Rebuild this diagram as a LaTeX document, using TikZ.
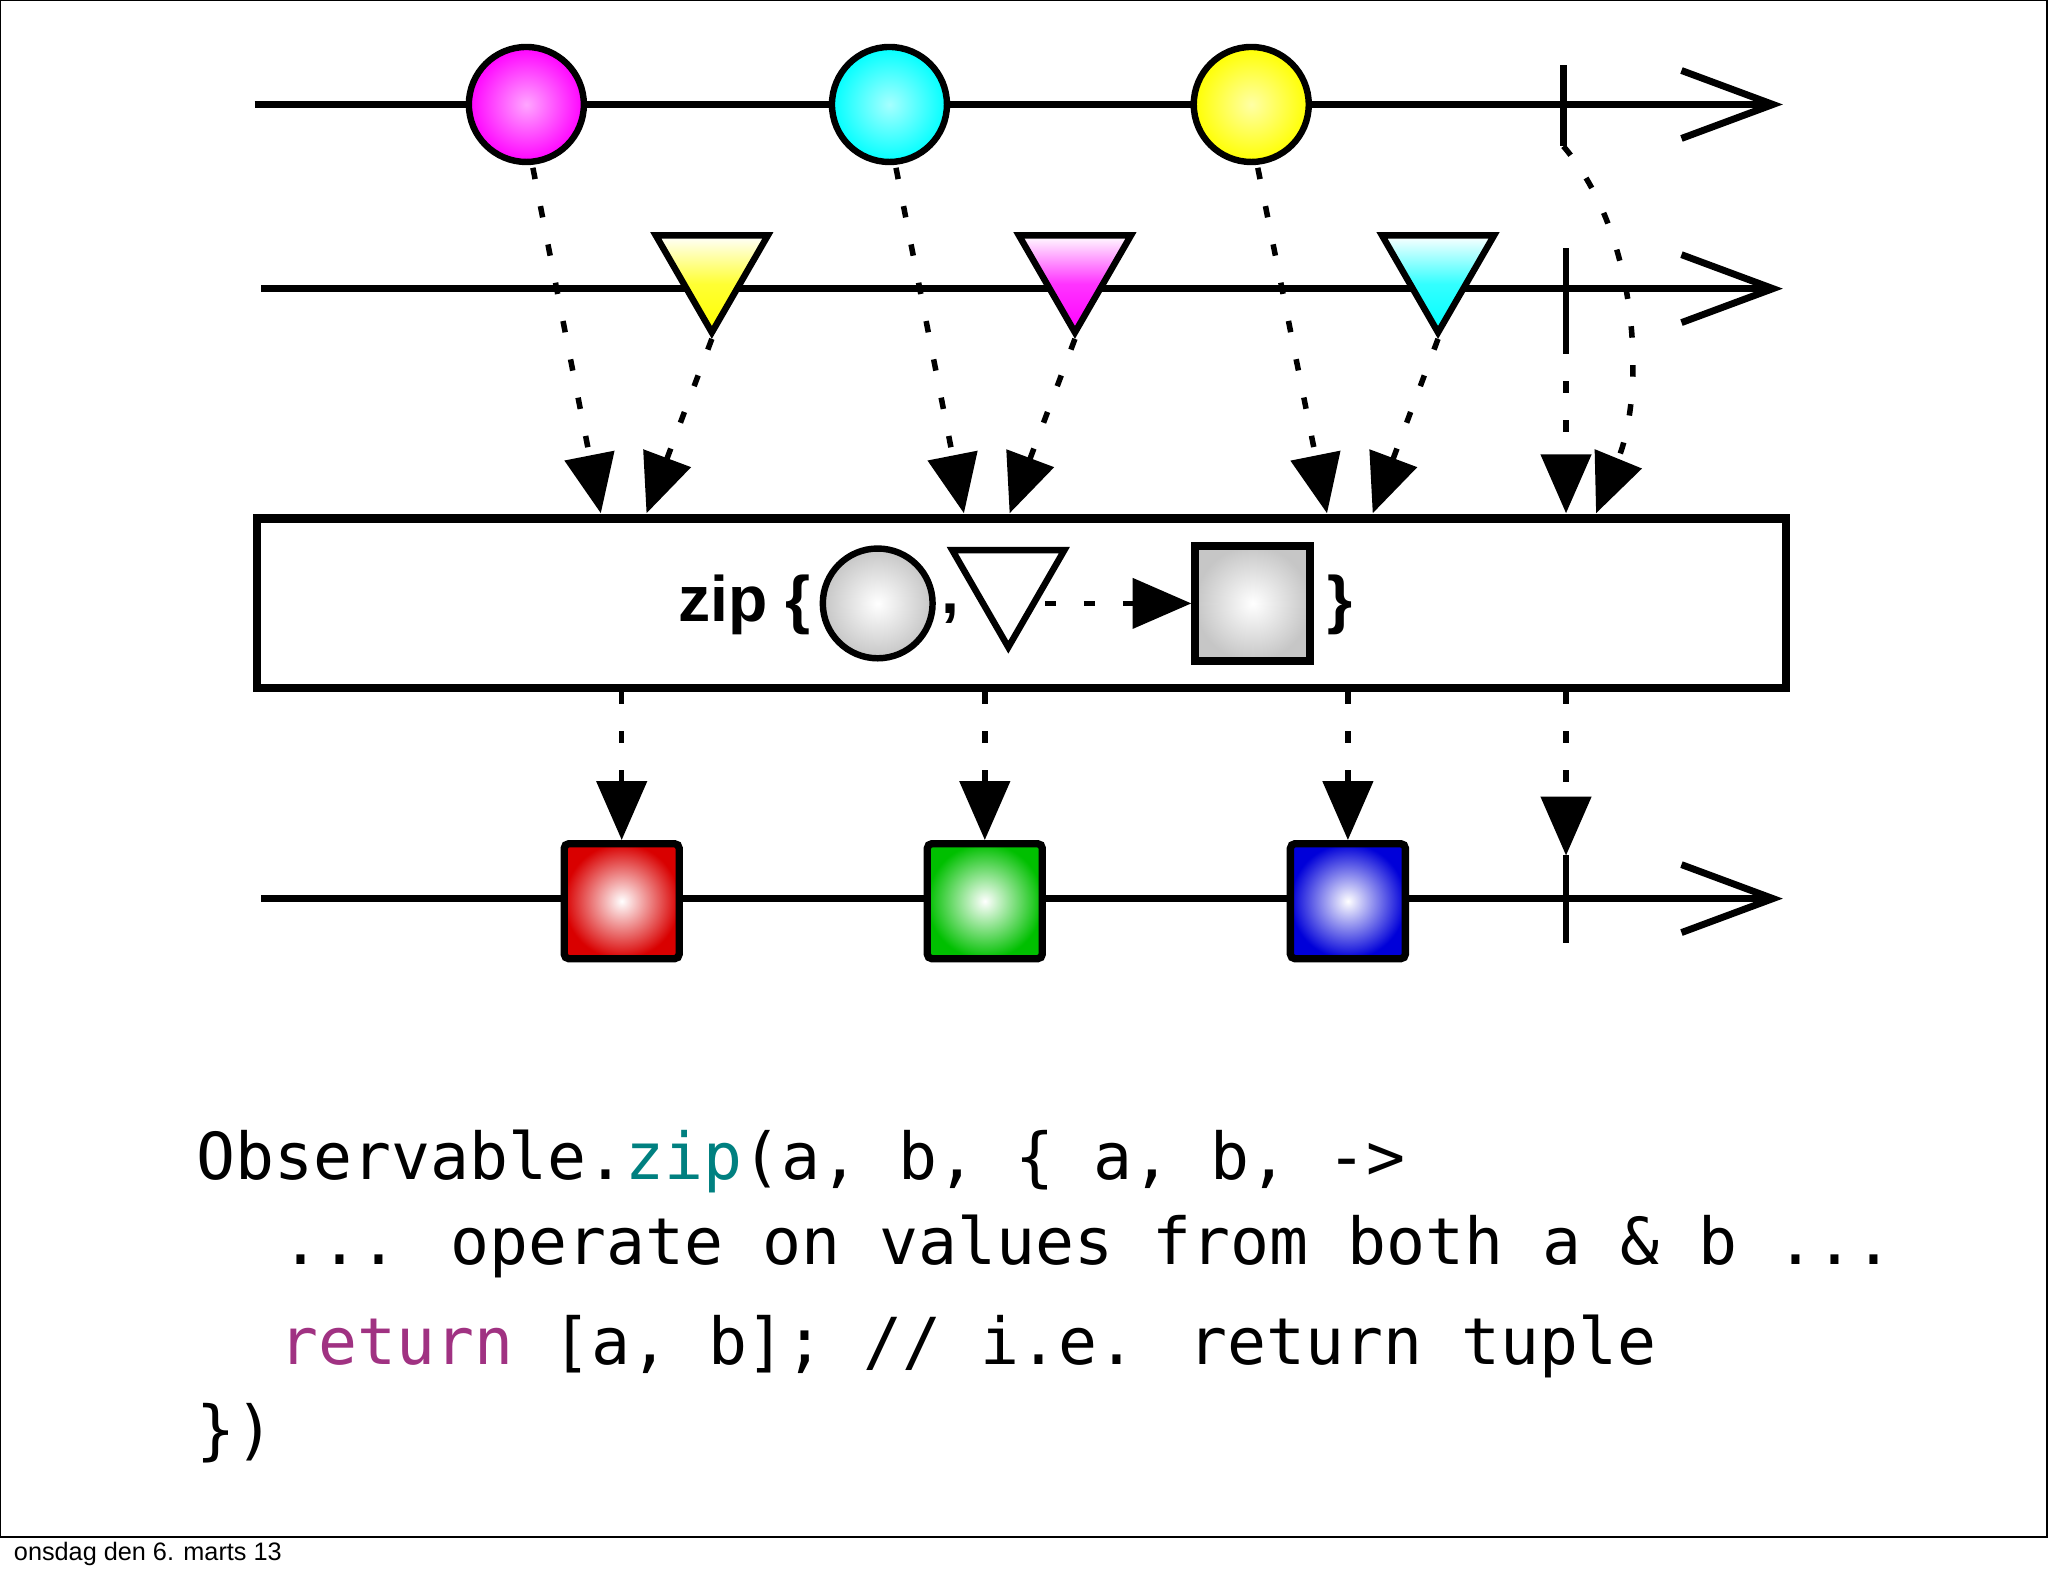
\documentclass[tikz,border=0pt]{standalone}
\usepackage{fontspec}
\newfontfamily\hv{Liberation Sans}
\newfontfamily\code{DejaVu Sans Mono}
\usetikzlibrary{arrows.meta,shapes.geometric}
\definecolor{teal2}{RGB}{0,128,128}
\definecolor{purp}{RGB}{160,50,130}
\tikzset{
 tl/.style={line width=1.5pt,-{Straight Barb[length=7mm,width=5.2mm,line width=1.5pt]}},
 tick/.style={line width=1.5pt},
 dot/.style={line width=1.2pt,dash pattern=on 2.5pt off 6pt,-{Triangle[length=4.5mm,width=3.8mm]}},
 ball/.style={circle,draw,line width=1.4pt,minimum size=0.88cm,inner sep=0,inner color=#1!35!white,outer color=#1},
 tri/.style={regular polygon,regular polygon sides=3,shape border rotate=180,draw,line width=1.4pt,minimum size=0.99cm,inner sep=0,top color=white,bottom color=#1,middle color=#1!80!white},
 sq/.style={rectangle,draw,line width=1.6pt,minimum size=0.88cm,inner sep=0,inner color=white,outer color=#1,rounded corners=1pt},
 codet/.style={anchor=base west,inner sep=0,font=\code\fontsize{14.1}{17}\selectfont}
}
\begin{document}
\begin{tikzpicture}[x=0.01cm,y=-0.01cm]
\useasboundingbox (0,0) rectangle (1568,1207);
\draw[line width=0.4pt] (0,0) rectangle (1567,1177);
\node[anchor=west,inner sep=0,font=\hv\fontsize{5.5}{7}\selectfont] (foot) at (10,1190) {onsdag den 6. marts 13};
% line 1
\coordinate (a0) at (195,80); \coordinate (a1) at (1365,80);
\draw[tl] (a0) -- (a1);
\coordinate (t1a) at (1197,50); \coordinate (t1b) at (1197,112);
\draw[tick] (t1a) -- (t1b);
\node[ball=magenta] (c1) at (403,80) {};
\node[ball=cyan] (c2) at (681,80) {};
\node[ball=yellow] (c3) at (958,80) {};
% line 2
\coordinate (b0) at (200,221); \coordinate (b1) at (1365,221);
\draw[tl] (b0) -- (b1);
\coordinate (t2a) at (1199,190); \coordinate (t2b) at (1199,262);
\draw[tick] (t2a) -- (t2b);
\node[tri=yellow] (r1) at (545,205) {};
\node[tri=magenta] (r2) at (823,205) {};
\node[tri=cyan] (r3) at (1101,205) {};
% box
\node[draw,line width=1.8pt,minimum width=11.7cm,minimum height=1.3cm,inner sep=0] (box) at (782,462) {};
\node[inner sep=0,font=\hv\bfseries\fontsize{14}{16}\selectfont] (zip) at (570,463) {zip \{};
\node[circle,draw,line width=1.4pt,minimum size=0.84cm,inner sep=0,inner color=white,outer color=gray!45] (bc) at (672,462) {};
\node[inner sep=0,font=\hv\bfseries\fontsize{14}{16}\selectfont] (comma) at (728,470) {,};
\node[regular polygon,regular polygon sides=3,shape border rotate=180,draw,line width=1.4pt,minimum size=0.99cm,inner sep=0] (bt) at (772,446) {};
\node[rectangle,draw,line width=1.6pt,minimum size=0.88cm,inner sep=0,inner color=white,outer color=gray!45] (bs) at (959,462) {};
\node[inner sep=0,font=\hv\bfseries\fontsize{14}{16}\selectfont] (cb) at (1026,463) {\}};
\coordinate (dd) at (800,462);
\draw[dot] (dd) -- (bs.west);
% arrows in
\coordinate (e1) at (460,393); \coordinate (f1) at (495,393);
\coordinate (e2) at (738,393); \coordinate (f2) at (773,393);
\coordinate (e3) at (1016,393); \coordinate (f3) at (1051,393);
\coordinate (e4) at (1199,393); \coordinate (f4) at (1222,393);
\draw[dot] (c1.south) ++(5,2) -- (e1);
\draw[dot] (c2.south) ++(5,2) -- (e2);
\draw[dot] (c3.south) ++(5,2) -- (e3);
\draw[dot] (r1.south) -- (f1);
\draw[dot] (r2.south) -- (f2);
\draw[dot] (r3.south) -- (f3);
\draw[dot] (t2b) -- (e4);
\draw[dot] (t1b) .. controls (1255,180) and (1260,300) .. (f4);
% line 3
\coordinate (g0) at (200,688); \coordinate (g1) at (1365,688);
\draw[tl] (g0) -- (g1);
\coordinate (t3a) at (1199,655); \coordinate (t3b) at (1199,722);
\draw[tick] (t3a) -- (t3b);
\node[sq=red!85!black] (s1) at (476,690) {};
\node[sq=green!75!black] (s2) at (754,690) {};
\node[sq=blue!85!black] (s3) at (1032,690) {};
\coordinate (o1) at (476,530); \coordinate (o2) at (754,530); \coordinate (o3) at (1032,530); \coordinate (o4) at (1199,530);
\draw[dot] (o1) -- (s1.north);
\draw[dot] (o2) -- (s2.north);
\draw[dot] (o3) -- (s3.north);
\draw[dot] (o4) -- (t3a);
% code
\node[codet] (l1) at (150,903) {Observable.\textcolor{teal2}{zip}(a, b, \{ a, b, ->};
\node[codet] (l2) at (215,968) {... operate on values from both a \& b ...};
\node[codet] (l3) at (213,1045) {\textcolor{purp}{return} [a, b]; // i.e. return tuple};
\node[codet] (l4) at (150,1112) {\})};
\end{tikzpicture}
\end{document}
